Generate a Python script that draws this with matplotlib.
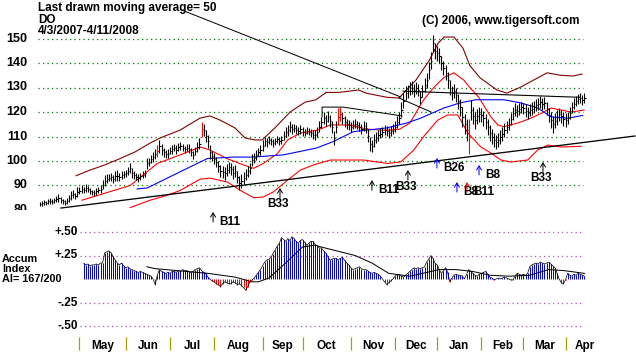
import matplotlib.pyplot as plt
import numpy as np

# canvas is 636x354 px; x axis is the trading-day index (day 0 = 4/3/2007)
W, H = 636, 354
X0, PITCH = 39.5, 2.104          # pixel of day 0, pixels per trading day
PX = 0.72                        # one pixel in points

# --- daily price bars (close and high-low span) ---
closes = [
    82.5, 82.8, 83.2, 82.9, 83.5, 83.8, 83.4, 84.0, 84.6, 84.9,
    84.2, 83.5, 83.0, 83.6, 84.8, 86.0, 86.6, 85.8, 87.3, 87.9,
    88.5, 88.2, 89.0, 88.4, 87.6, 87.2, 87.0, 87.6, 88.1, 88.6,
    90.4, 92.0, 92.8, 93.2, 93.5, 92.6, 93.8, 94.0, 93.4, 94.2,
    94.6, 95.0, 96.0, 97.0, 95.0, 94.3, 93.6, 93.0, 93.8, 94.4,
    95.0, 99.0, 99.6, 100.8, 101.6, 102.8, 104.0, 106.0, 104.6, 103.5,
    102.8, 103.0, 104.2, 104.8, 105.4, 104.6, 105.7, 106.1, 105.5, 104.8,
    105.4, 105.0, 103.6, 102.5, 104.0, 105.6, 107.0, 113.0, 112.6, 110.2,
    108.0, 103.7, 102.0, 101.0, 99.5, 97.8, 96.0, 95.6, 95.0, 96.4,
    97.5, 96.8, 95.2, 96.0, 93.5, 91.0, 91.8, 93.0, 94.4, 95.8,
    97.0, 100.4, 101.2, 102.5, 103.6, 104.5, 106.2, 108.0, 107.6, 108.6,
    108.0, 107.4, 108.0, 108.9, 108.2, 108.6, 110.4, 111.8, 112.6, 114.0,
    113.2, 113.5, 112.8, 112.2, 112.9, 112.0, 111.6, 112.4, 112.0, 111.4,
    110.8, 110.6, 112.0, 114.0, 115.8, 117.5, 116.4, 118.0, 116.2, 114.0,
    109.4, 113.8, 118.0, 119.2, 117.4, 116.0, 115.2, 114.6, 114.0, 114.8,
    115.3, 114.7, 114.0, 113.2, 114.4, 113.5, 110.4, 107.0, 106.2, 108.4,
    109.4, 110.6, 111.2, 112.0, 112.6, 112.2, 111.4, 112.4, 113.2, 114.0,
    115.8, 117.5, 121.0, 124.6, 127.7, 128.4, 129.6, 130.0, 128.8, 129.8,
    129.0, 126.0, 128.5, 131.0, 133.0, 137.0, 141.0, 148.0, 145.0, 144.0,
    143.0, 140.0, 138.0, 136.0, 133.0, 130.0, 127.7, 128.6, 127.0, 124.4,
    122.0, 118.0, 115.0, 112.6, 110.0, 120.8, 118.4, 116.7, 118.2, 119.0,
    118.8, 117.4, 116.0, 113.8, 111.6, 110.0, 108.6, 107.8, 108.6, 109.8,
    111.0, 112.6, 113.8, 115.0, 117.2, 119.4, 121.0, 120.4, 121.2, 122.0,
    121.6, 120.6, 119.6, 120.8, 121.4, 122.0, 123.0, 123.4, 124.0, 123.2,
    123.7, 121.4, 118.8, 116.6, 115.0, 116.4, 117.8, 119.0, 118.2, 117.2,
    116.7, 117.4, 119.6, 122.0, 123.4, 124.6, 125.2, 125.7, 124.8, 125.7,
]
spans = [
    1.5, 2, 2, 1.5, 2, 2.5, 2, 2, 2.5, 3,
    2.5, 2, 2, 2.5, 3, 3.5, 3, 2.5, 4, 3,
    3, 2.5, 3, 2.5, 2.5, 2, 2.5, 3, 2.5, 3,
    4, 4.5, 3.5, 3, 3, 3.5, 4, 4.5, 3, 3.5,
    3, 3, 3.5, 4, 4, 3, 3, 3.5, 3, 3,
    3, 4.5, 3.5, 3, 4, 4, 5, 5.5, 4.5, 4,
    3.5, 3.5, 3, 3.5, 3, 3.5, 3, 3.5, 3, 3,
    3, 3.5, 3.5, 3, 3.5, 4, 4.5, 6, 5, 5,
    5, 5.5, 4, 4.5, 4, 4.5, 5, 5, 5.5, 5,
    4.5, 5, 5.5, 5, 5, 6, 5.5, 5, 4.5, 4.5,
    4.5, 5, 4, 4, 3.5, 4, 4.5, 4, 3.5, 3.5,
    3, 3, 3, 3, 3, 3.5, 4, 4, 4.5, 4.5,
    4, 3.5, 3.5, 3, 3.5, 3.5, 3, 3, 3, 3,
    3.5, 4, 4, 4.5, 4.5, 5, 4.5, 4.5, 5, 5,
    5.5, 5, 7, 6, 5, 4.5, 4, 4, 4, 3.5,
    3.5, 3.5, 3.5, 4, 4, 4.5, 5, 5.5, 5, 5,
    4.5, 4.5, 4, 4, 4, 4, 4, 4, 4, 4.5,
    5, 5, 6, 6, 6, 5.5, 5, 5, 5, 5,
    5, 5.5, 5, 5.5, 6, 7, 7, 7, 6.5, 6,
    6, 6, 6, 6, 6.5, 6, 6, 5.5, 6, 6,
    7, 8, 8, 9, 14, 8, 7, 7, 6, 6,
    6, 6, 6, 6.5, 6.5, 6.5, 6, 6, 6, 5.5,
    5.5, 5.5, 5, 5, 5, 5, 5, 5, 5, 4.5,
    4.5, 5, 5, 5, 5, 5, 5, 5, 5, 5,
    5, 5.5, 6, 6.5, 7, 6, 6, 5.5, 5, 5.5,
    5.5, 5, 5, 4.5, 4.5, 4, 4, 4, 4, 4,
]
red_days = [56, 77, 142, 143, 204]

# --- bands and moving average (day, price) ---
upper_days = [17.4, 24, 31.1, 38.3, 45.4, 52.5, 57.3, 66.8, 76.3, 81, 85.8, 92.9, 97.7,
              102.4, 105.8, 111.9, 119.1, 126.2, 131.4, 136.2, 142.3, 151.8, 155.2,
              165.1, 170.8, 178.9, 185.2, 189.4, 192.3, 197, 201.3, 204.5, 209.3,
              217.4, 222.1, 228.3, 241.3, 247.4, 253.6, 257.9]
upper_vals = [94, 96.3, 98.4, 101, 103.7, 107.3, 109.4, 112.6, 117.5, 118.4, 116.7, 113.5,
              109.4, 108.6, 108.6, 113.5, 120, 124, 125, 128, 128, 129, 127.7, 126, 125.7,
              133, 141, 148, 150.6, 150.6, 146, 139, 134, 129, 127.7, 130, 136, 135,
              134.7, 135.5]
mid_days = [20.2, 43.1, 56, 66.9, 76.4, 81, 89.1, 96.9, 101.7, 106.4, 113.1, 117.9, 124,
            132.1, 138.3, 147.4, 155.5, 165.5, 171.2, 176, 182.6, 187.4, 192.1, 196.9,
            201.7, 204.5, 208.8, 214.5, 217.9, 220.7, 227.4, 233.6, 239.8, 243.1, 247.9,
            252.6, 258.8]
mid_vals = [84, 90, 99, 102.5, 105.7, 104.5, 101, 98.4, 97, 99, 103, 108.6, 111.4, 112.6,
            114.7, 114.7, 113, 112.5, 113, 115.5, 125, 130, 134, 136, 133, 130, 126, 118,
            114.7, 114, 115.5, 117.5, 120, 121.6, 120.8, 120, 120.8]
lower_days = [43.1, 52.6, 60.7, 66.9, 76.4, 81.2, 89.3, 95.5, 101.7, 106.4, 111.2, 117.9,
              124, 130.2, 138.3, 145.5, 154, 165.5, 171.7, 177.9, 182.6, 189.3, 194,
              198.8, 203.6, 209.8, 214.5, 219.3, 224, 232, 236.8, 241.6, 247.9, 257.4]
lower_vals = [81, 84, 86, 88, 92.6, 93, 91.4, 88, 85, 85.3, 87.4, 92.2, 96.3, 98.4, 100.4,
              100.4, 100.4, 99, 99.6, 104.5, 110, 116.7, 118.8, 118.8, 111.4, 105.7, 103.3,
              100.4, 99.6, 100.4, 104.5, 106.5, 105.7, 106]
ma50_days = [46.4, 51.2, 60.7, 70.2, 76.4, 79.8, 92.1, 101.7, 115.9, 131.7, 139.8, 144.5,
             149.3, 155.5, 165, 174.5, 181.2, 192.1, 199.8, 207.4, 220.7, 228.8, 236.9,
             243.1, 251.2, 258.2]
ma50_vals = [88.6, 89, 93, 97, 99.6, 101, 101.6, 101.6, 102.5, 105.3, 108, 110, 112, 112.6,
             113.5, 115.5, 117.5, 121.6, 123.7, 125, 125, 123.7, 121.6, 118, 117.5, 118.6]

# --- hand-drawn lines (day, price) ---
trend_days, trend_vals = [10.2, 283.0], [80.8, 110.2]
resist_days, resist_vals = [172.8, 256.9], [128.5, 126.0]
pointer_days, pointer_vals = [67.7, 171.8], [161.6, 126.1]
box_days, box_vals = [134.3, 134.3, 144.3, 172.3], [118.0, 122.0, 122.0, 118.4]
drop_days, drop_vals = [170.9, 186.1], [125.7, 120.0]

# --- buy signals: day, arrow tip price, label, arrow colour, label placement ---
signals = [
    (82.5, 79.2, 'B11', 'black', 'right'),
    (114.3, 89.0, 'B33', 'black', 'below'),
    (158.0, 92.2, 'B11', 'black', 'right'),
    (175.1, 96.3, 'B33', 'black', 'below'),
    (188.9, 101.2, 'B26', '#0000ff', 'right'),
    (198.4, 91.4, 'B8', '#0000ff', 'right'),
    (203.2, 91.4, 'B11', '#ff0000', 'right'),
    (208.9, 98.4, 'B8', '#0000ff', 'right'),
    (239.3, 99.6, 'B33', 'black', 'below'),
]

# --- accumulation index, daily from day 21 ---
ai_start = 21
ai_vals = [
    .17, .15, .16, .14, .15, .15, .16, .15, .17,
    .17, .28, .29, .30, .28, .24, .20, .17, .15, .17,
    .14, .12, .13, .11, .10, .09, .08, .07, .08, .07,
    .06, .05, .04, .03, .0, -.06, .04, .10, .08, .07,
    .06, .07, .06, .08, .08, .07, .09, .08, .10, .09,
    .09, .08, .07, .08, .10, .11, .12, .09, .07, .06,
    .02, 0, -.02, -.03, -.05, -.06, -.08, -.05, -.03, -.04,
    -.05, -.05, -.03, -.04, -.06, -.05, -.07, -.09, -.12, -.08,
    -.03, -.01, .01, .04, .07, .10, .14, .18, .20, .21,
    .23, .27, .31, .35, .38, .44, .42, .40, .43, .41,
    .45, .43, .40, .38, .41, .42, .39, .36, .38, .40,
    .40, .37, .35, .33, .33, .30, .28, .24, .20, .21,
    .22, .22, .20, .22, .23, .20, .17, .15, .12, .10,
    .11, .12, .13, .11, .10, .10, .09, .07, .06, .07,
    .06, .05, .03, 0, -.03, -.06, -.04, -.02, 0, .03,
    .05, .04, .03, .02, .04, .06, .08, .10, .12, .11,
    .12, .11, .12, .13, .18, .21, .25, .22, .17, .15,
    .10, .06, .09, .12, .07, -.03, .01, .04, .05, .04,
    .04, .03, 0, .05, .10, .08, .06, .04, .03, .05,
    .06, .07, .08, .05, .02, .01, -.01, 0, .01, 0,
    .01, .02, .01, 0, -.01, -.01, .03, .06, .05, .04,
    .05, .04, .06, .13, .15, .16, .17, .16, .18, .17,
    .16, .17, .18, .16, .14, .12, .06, .0, -.04, -.05,
    -.01, .06, .04, .03, .05, .04, .06, .05, .04, .03,
]
ai_ma_days = [51, 55, 80, 93, 101, 104, 109, 117, 125, 131, 134, 150, 158, 166, 176, 182,
              190, 198, 206, 214, 223, 233, 242, 249, 259]
ai_ma_vals = [.13, .11, .06, .02, -.03, -.03, .01, .17, .34, .36, .34, .25, .17, .06, .03,
              .06, .10, .10, .08, .04, .03, .04, .10, .09, .06]

month_tick_days = [19, 41, 62, 83, 106, 125, 148, 169, 189, 210, 230, 250]
month_names = ['May', 'Jun', 'Jul', 'Aug', 'Sep', 'Oct', 'Nov', 'Dec', 'Jan', 'Feb', 'Mar', 'Apr']
price_ticks = [80, 90, 100, 110, 120, 130, 140, 150]
ai_ticks = [0.5, 0.25, -0.25, -0.5]
ai_tick_labels = ['+.50', '+.25', '-.25', '-.50']

FONT = 'Liberation Sans'
DARK_RED, RED, BLUE = '#800000', '#ff0000', '#0000ff'
DOT = (0, (1, 2.6))


def px_rect(x0, y0, x1, y1):
    return [x0 / W, 1 - y1 / H, (x1 - x0) / W, (y1 - y0) / H]


def px_to_day(x):
    return (x - X0) / PITCH


fig = plt.figure(figsize=(W / 100, H / 100), dpi=100)
fig.patch.set_facecolor('white')

# ---------------- price panel ----------------
ax = fig.add_axes(px_rect(0, 24, W, 210))
ax.set_xlim(px_to_day(0), px_to_day(W))
ax.set_ylim(80.0, 80.0 + (210 - 24) / 2.45)
ax.axis('off')

grid_x0, grid_x1 = px_to_day(38), px_to_day(583)
ax.hlines(price_ticks[1:], grid_x0, grid_x1, colors='#008000', linestyles=DOT, lw=0.9)
for p in price_ticks:
    ax.text(px_to_day(27), p, str(p), ha='right', va='center', fontsize=9,
            fontweight='bold', family=FONT, clip_on=True)

days = np.arange(len(closes))
c = np.array(closes)
s = np.array(spans)
bar_cols = ['#ff0000' if d in red_days else 'black' for d in days]
ax.vlines(days, c - s / 2, c + s / 2, colors=bar_cols, lw=1.1 * PX, zorder=4)
ax.hlines(c, days, days + 0.6, colors=bar_cols, lw=1.1 * PX, zorder=4)

ax.plot(upper_days, upper_vals, color=DARK_RED, lw=1.1 * PX, zorder=3)
ax.plot(mid_days, mid_vals, color=RED, lw=1.1 * PX, zorder=3)
ax.plot(lower_days, lower_vals, color=RED, lw=1.1 * PX, zorder=3)
ax.plot(ma50_days, ma50_vals, color=BLUE, lw=1.1 * PX, zorder=3)

ax.plot(trend_days, trend_vals, color='black', lw=1.3 * PX, zorder=5)
ax.plot(resist_days, resist_vals, color='black', lw=1.1 * PX, zorder=5)
ax.plot(box_days, box_vals, color='black', lw=1.0 * PX, zorder=5)
ax.plot(drop_days, drop_vals, color='black', lw=1.0 * PX, zorder=5)
ax.plot(pointer_days, pointer_vals, color='black', lw=1.0 * PX, zorder=5, clip_on=False)

arrow_len = 10 / 2.45
for d, tip, label, col, place in signals:
    ann = ax.annotate('', xy=(d, tip), xytext=(d, tip - arrow_len),
                      arrowprops=dict(arrowstyle='->,head_length=0.3,head_width=0.18',
                                      color=col, lw=1.0 * PX, shrinkA=0, shrinkB=0),
                      annotation_clip=False, zorder=6)
    ann.arrow_patch.set_clip_on(False)
    if place == 'right':
        ax.text(d + 6 / PITCH, tip - arrow_len, label, ha='left', va='center',
                fontsize=8.5, fontweight='bold', family=FONT, clip_on=False, zorder=6)
    else:
        ax.text(d - 1.5 / PITCH, tip - 16.5 / 2.45, label, ha='center', va='center',
                fontsize=8.5, fontweight='bold', family=FONT, clip_on=False, zorder=6)

# header texts
hdr = dict(fontsize=8.5, fontweight='bold', family=FONT, va='center', ha='left')
fig.text(38 / W, 1 - 8 / H, 'Last drawn moving average= 50', **hdr)
fig.text(38 / W, 1 - 20 / H, 'DO', **hdr)
fig.text(38 / W, 1 - 30.5 / H, '4/3/2007-4/11/2008', **hdr)
fig.text(422 / W, 1 - 21 / H, '(C) 2006, www.tigersoft.com', **hdr)

# ---------------- accumulation index panel ----------------
ax2 = fig.add_axes(px_rect(0, 226, W, H))
ax2.set_xlim(px_to_day(0), px_to_day(W))
ax2.set_ylim((279 - H) / 94, (279 - 226) / 94)
ax2.axis('off')

ax2.hlines(ai_ticks, px_to_day(80), grid_x1, colors='#b050b0', linestyles=DOT, lw=0.9)
for v, lab in zip(ai_ticks, ai_tick_labels):
    ax2.text(px_to_day(78), v, lab, ha='right', va='center', fontsize=8.5,
             fontweight='bold', family=FONT)
for i, lab in enumerate(['Accum', 'Index', 'AI= 167/200']):
    ax2.text(px_to_day(2), (279 - (259 + 10 * i)) / 94, lab, ha='left', va='center',
             fontsize=7.8, fontweight='bold', family=FONT)

ai = np.array(ai_vals)
ai_days = np.arange(ai_start, ai_start + len(ai))
ax2.vlines(ai_days, 0, ai, colors=np.where(ai >= 0, BLUE, RED), lw=1.0 * PX)
ax2.plot(ai_days, ai, color='black', lw=0.7 * PX)
ax2.plot(ai_ma_days, ai_ma_vals, color='black', lw=1.0 * PX)

# month ticks and labels
v_top, v_bot = (279 - 337) / 94, (279 - 350) / 94
ax2.vlines(month_tick_days, v_bot, v_top, colors='#a0a000', lw=1.2 * PX)
label_days = [(a + b) / 2 for a, b in zip(month_tick_days[:-1], month_tick_days[1:])]
label_days.append(month_tick_days[-1] + 9)
for d, name in zip(label_days, month_names):
    ax2.text(d, (279 - 346) / 94, name, ha='center', va='center', fontsize=8.5,
             fontweight='bold', family=FONT)

fig.savefig('out.png', dpi=100, facecolor='white')
